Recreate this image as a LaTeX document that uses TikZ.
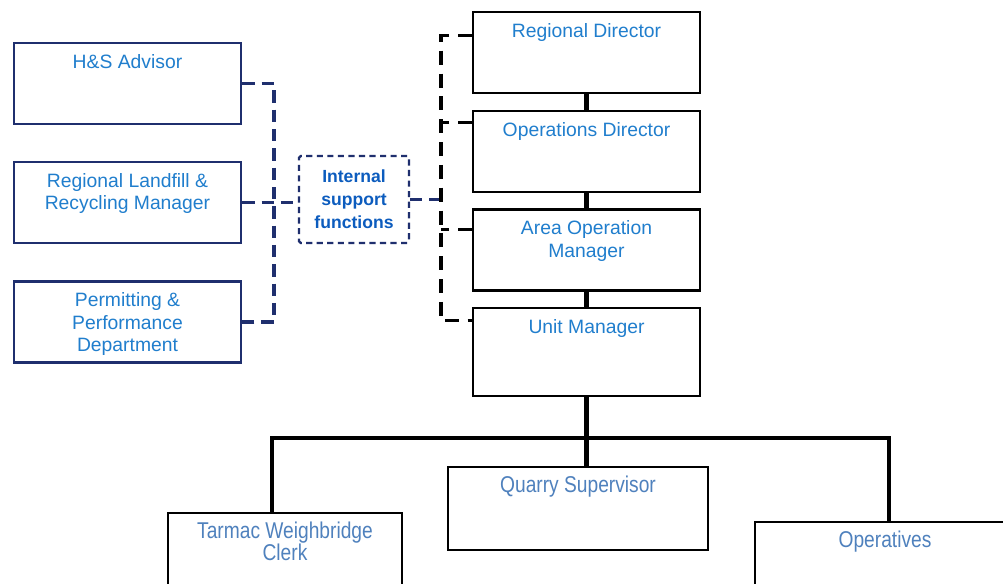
\documentclass[tikz,border=0pt]{standalone}
\usepackage{fontspec}
\setmainfont{Liberation Sans}
\newfontfamily\narrowsf[FakeStretch=0.84]{Liberation Sans}
\usetikzlibrary{positioning,calc}
\definecolor{navy}{RGB}{31,47,110}
\definecolor{capblue}{RGB}{32,126,205}
\definecolor{boldblue}{RGB}{12,92,190}
\definecolor{steel}{RGB}{79,129,189}

\begin{document}
\begin{tikzpicture}[
    x=0.02cm, y=-0.02cm,
    sidebox/.style={draw=navy, line width=1.4pt, minimum width=4.54cm, minimum height=1.62cm},
    rolebox/.style={draw=black, line width=1.3pt, minimum width=4.54cm, minimum height=1.62cm},
    txt/.style={inner sep=0pt, align=center, text=capblue, font=\fontsize{11}{12.8}\selectfont},
    lowtxt/.style={txt, text=steel, font=\narrowsf\fontsize{13}{12.5}\selectfont},
    navydash/.style={draw=navy, line width=1.8pt, dash pattern=on 7pt off 4pt},
    blkdash/.style={draw=black, line width=1.8pt, dash pattern=on 8pt off 5pt},
    solid/.style={draw=black, line width=2.3pt}
  ]
    \clip (0,0) rectangle (1003,583);
    \fill[white] (0,0) rectangle (1003,583);

    \node[sidebox] (hs) at (127.5,83.5) {};
    \node[sidebox] (rl) at (127.5,202.5) {};
    \node[sidebox] (pp) at (127.5,322) {};
    \node[txt, below=0.24cm of hs.north] (hs-t) {H\&S Advisor};
    \node[txt, below=0.24cm of rl.north] (rl-t) {Regional Landfill \&\\Recycling Manager};
    \node[txt, below=0.24cm of pp.north] (pp-t) {Permitting \&\\Performance\\Department};

    \node[draw=navy, line width=1.3pt, dash pattern=on 3.5pt off 2.5pt, rounded corners=1pt,
          minimum width=2.2cm, minimum height=1.74cm, inner sep=0pt, align=center,
          text=boldblue, font=\fontsize{10}{13}\selectfont\bfseries] (isf) at (354,199.5)
          {Internal\\support\\functions};

    \node[rolebox] (rd) at (586.5,52.5) {};
    \node[rolebox] (od) at (586.5,151.5) {};
    \node[rolebox] (aom) at (586.5,250) {};
    \node[rolebox, minimum height=1.76cm] (um) at (586.5,352) {};
    \node[txt, below=0.24cm of rd.north] (rd-t) {Regional Director};
    \node[txt, below=0.24cm of od.north] (od-t) {Operations Director};
    \node[txt, below=0.24cm of aom.north] (aom-t) {Area Operation\\Manager};
    \node[txt, below=0.24cm of um.north] (um-t) {Unit Manager};

    \node[rolebox, minimum width=5.2cm, minimum height=1.66cm] (qs) at (578,508.5) {};
    \node[rolebox, minimum width=4.68cm, minimum height=2cm] (twc) at (285,563) {};
    \node[rolebox, minimum width=5.2cm, minimum height=2cm] (ops) at (885,572) {};
    \node[lowtxt, below=0.2cm of qs.north] (qs-t) {Quarry Supervisor};
    \node[lowtxt, below=0.2cm of twc.north] (twc-t) {Tarmac Weighbridge\\Clerk};
    \node[lowtxt, below=0.2cm of ops.north] (ops-t) {Operatives};

    \draw[solid] (rd.south) -- (od.north);
    \draw[solid] (od.south) -- (aom.north);
    \draw[solid] (aom.south) -- (um.north);
    \draw[solid] (um.south) -- (um.south |- qs.north);
    \coordinate (busL) at (272,438);
    \coordinate (busR) at (889,438);
    \draw[solid] (busL |- twc.north) -- (busL) -- (busR) -- (busR |- ops.north);

    \coordinate (lj) at (274,200);
    \draw[navydash] (hs.east) -| (lj) |- (pp.east);
    \draw[navydash] (rl.east) -- (rl.east -| isf.west);

    \coordinate (rj) at (441,200);
    \coordinate (s1) at ($(rd.north west)+(0,25)$);
    \coordinate (s2) at ($(od.north west)+(0,13)$);
    \coordinate (s3) at ($(aom.north west)+(0,21)$);
    \coordinate (s4) at ($(um.north west)+(0,14)$);
    \draw[navydash] (isf.east) -- (isf.east -| rj);
    \draw[blkdash] (s1) -| (rj) |- (s4);
    \draw[blkdash] (s2) -- (s2 -| rj);
    \draw[blkdash] (s3) -- (s3 -| rj);
  \end{tikzpicture}
\end{document}
